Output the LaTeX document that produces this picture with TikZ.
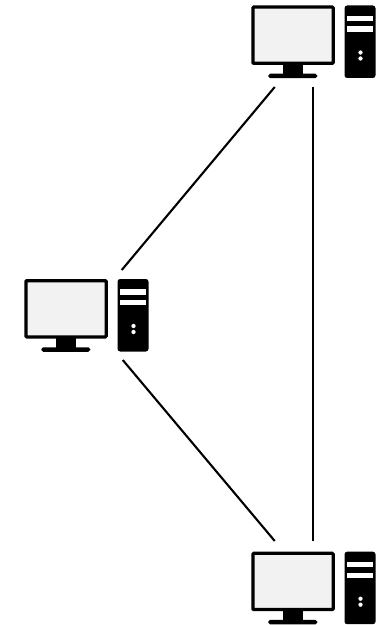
\documentclass[tikz,border=0pt]{standalone}
\usepackage{tikz}
\usepackage{xcolor}
\definecolor{screengray}{RGB}{242,242,242}
\tikzset{
  monblk/.style={
    draw=black, line width=0.065cm, fill=screengray, rounded corners=0.5pt,
    minimum width=1.605cm, minimum height=1.125cm, inner sep=0pt,
  },
  solidblk/.style={
    fill=black, inner sep=0pt, outer sep=0pt,
  },
  slotblk/.style={
    fill=white, inner sep=0pt, outer sep=0pt,
    minimum width=0.52cm, minimum height=0.11cm,
  },
  dotblk/.style={
    circle, fill=white, inner sep=0pt, outer sep=0pt, minimum size=0.085cm,
  },
  linkline/.style={line width=0.042cm, black},
  pics/computer/.style={
    code={
      % monitor
      \node[solidblk, minimum width=0.4cm, minimum height=0.2cm] (-stand) at (0.83, 1.28) {};
      \node[solidblk, rounded corners=1pt, minimum width=0.98cm, minimum height=0.09cm] (-base) at (0.83, 1.41) {};
      \node[monblk] (-mon) at (0.835, 0.595) {};
      % tower
      \node[solidblk, rounded corners=1.5pt, minimum width=0.62cm, minimum height=1.45cm] (-tower) at (2.175, 0.725) {};
      \node[slotblk] (-slota) at (2.175, 0.26) {};
      \node[slotblk] (-slotb) at (2.175, 0.474) {};
      \node[dotblk] (-dota) at (2.185, 0.94) {};
      \node[dotblk] (-dotb) at (2.185, 1.06) {};
      % line ends
      \coordinate (-sw) at (0.47, 1.63);
      \coordinate (-s) at (1.23, 1.63);
      \coordinate (-nw) at (0.47, -0.214);
      \coordinate (-n) at (1.23, -0.214);
      \coordinate (-ne) at (1.95, -0.18);
      \coordinate (-se) at (1.97, 1.62);
    }
  },
}

\begin{document}
\begin{tikzpicture}[y=-1cm]
\useasboundingbox (0, 0) rectangle (7.6, 12.5);

% computers
\pic (top) at (5.025, 0.11) {computer};
\pic (left) at (0.485, 5.58) {computer};
\pic (bot) at (5.025, 11.034) {computer};

% links
\draw[linkline] (top-sw) -- (left-ne);
\draw[linkline] (left-se) -- (bot-nw);
\draw[linkline] (top-s) -- (bot-n);

\end{tikzpicture}
\end{document}
